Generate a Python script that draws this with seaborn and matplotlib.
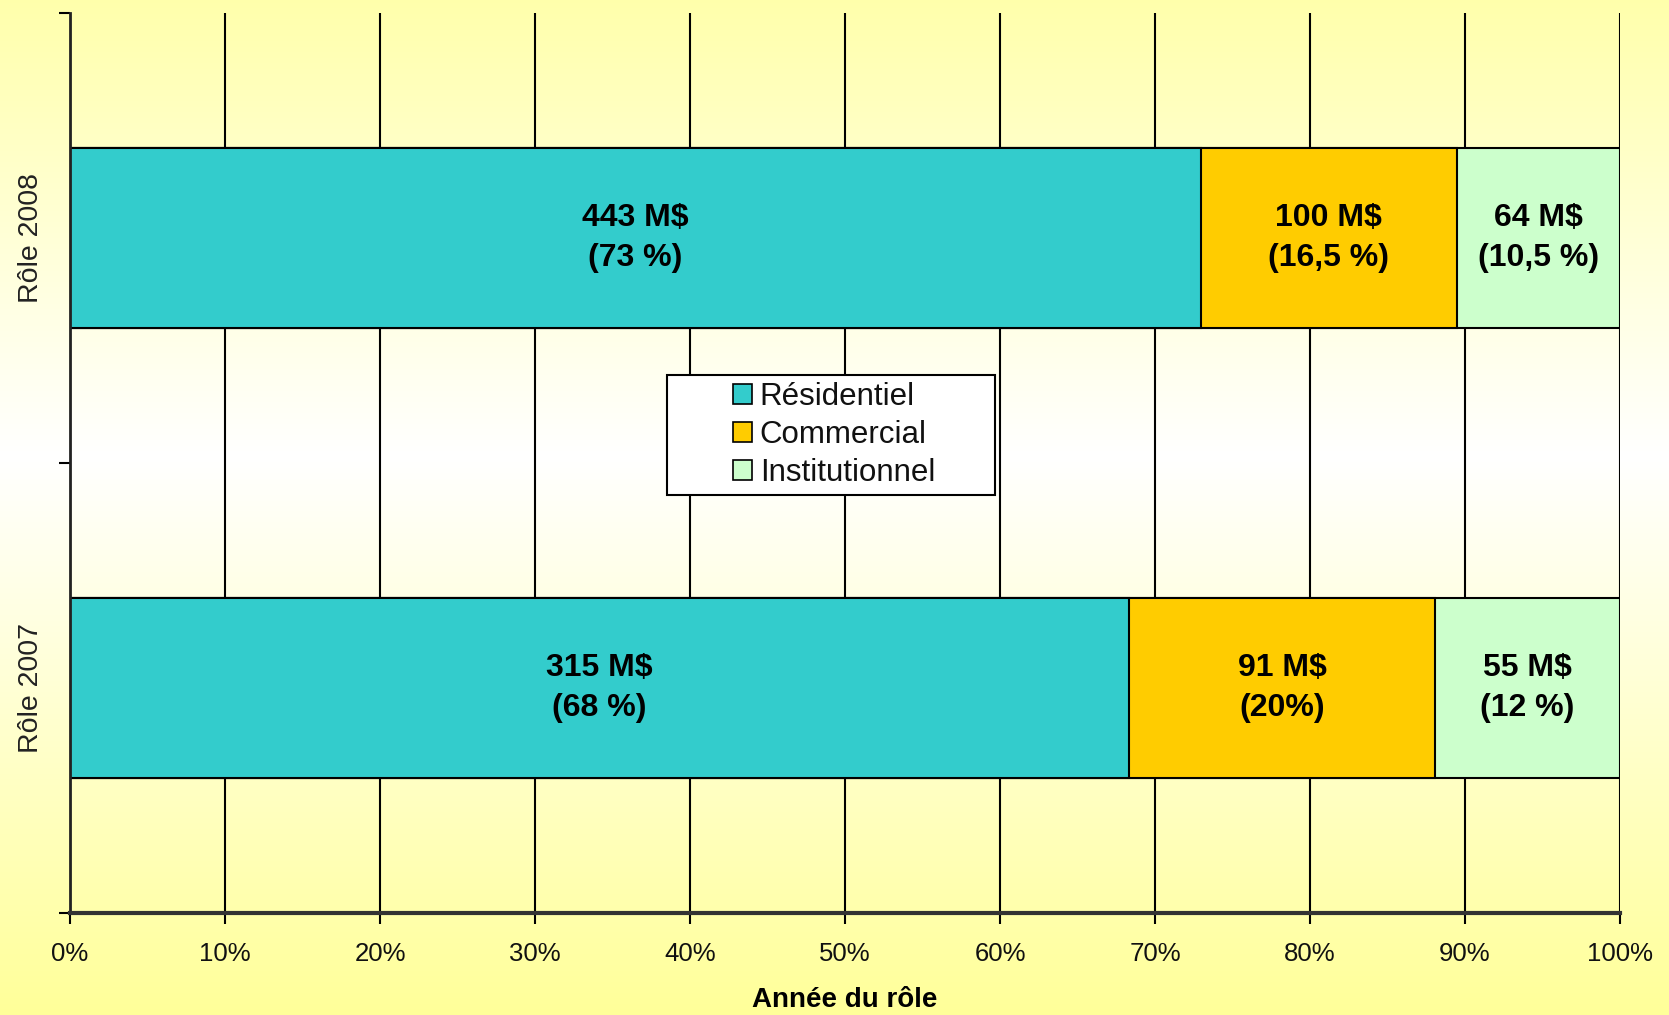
import numpy as np
import pandas as pd
import matplotlib
matplotlib.use("Agg")
import matplotlib.pyplot as plt
from matplotlib.patches import Patch, Rectangle
import seaborn as sns

sns.set_style("ticks")
plt.rcParams["font.family"] = ["Liberation Sans", "DejaVu Sans"]
plt.rcParams["text.color"] = "black"
plt.rcParams["xtick.color"] = "black"
plt.rcParams["ytick.color"] = "black"

# data (M$)
roles = ["Rôle 2008", "Rôle 2007"]
categories = ["Résidentiel", "Commercial", "Institutionnel"]
residentiel = [443, 315]
commercial = [100, 91]
institutionnel = [64, 55]
pct_labels = [["73 %", "16,5 %", "10,5 %"],
              ["68 %", "20%", "12 %"]]
colors = ["#33CCCC", "#FFCC00", "#CCFFCC"]
xticks = list(range(0, 101, 10))

df = pd.DataFrame({"role": roles, "Résidentiel": residentiel,
                   "Commercial": commercial, "Institutionnel": institutionnel})
total = df[categories].sum(axis=1)
for c in categories:
    df[c + "_pct"] = df[c] / total * 100
df["end_res"] = df["Résidentiel_pct"]
df["end_com"] = df["end_res"] + df["Commercial_pct"]
df["end_inst"] = df["end_com"] + df["Institutionnel_pct"]

fig = plt.figure(figsize=(16.69, 10.15), dpi=100)

# background gradient: yellow at top and bottom, white in the middle
H = 1015
t = np.linspace(0, 1, H)
w = np.clip(np.abs(t - 0.45) / 0.55, 0, 1)
yellow = np.array([1.0, 1.0, 0.6])
grad = (1 - w)[:, None] * np.ones(3) + w[:, None] * yellow
bg = fig.add_axes([0, 0, 1, 1], zorder=-10)
bg.imshow(grad[:, None, :], aspect="auto", extent=[0, 1, 0, 1])
bg.axis("off")

ax = fig.add_axes([70 / 1669, 102 / 1015, 1550 / 1669, 900 / 1015])
ax.set_facecolor("none")

ends = ["end_inst", "end_com", "end_res"]
for col, colr in zip(ends, colors[::-1]):
    sns.barplot(data=df, x=col, y="role", order=roles, orient="h", color=colr,
                saturation=1, width=0.4, edgecolor="black", linewidth=1.5, ax=ax)

# labels inside segments
starts = [np.zeros(len(df)), df["end_res"].values, df["end_com"].values]
stops = [df["end_res"].values, df["end_com"].values, df["end_inst"].values]
vals = [residentiel, commercial, institutionnel]
for j in range(3):
    for i in range(len(roles)):
        xc = (starts[j][i] + stops[j][i]) / 2
        ax.text(xc, i, f"{vals[j][i]} M$\n({pct_labels[i][j]})", ha="center", va="center",
                fontsize=23, fontweight="bold", linespacing=1.45, color="black", zorder=5)

ax.set_xlim(0, 100)
ax.set_ylim(1.5, -0.5)
ax.set_xticks(xticks)
ax.set_xticklabels([f"{v}%" for v in xticks], family=["Liberation Sans Narrow", "Liberation Sans"],
                   fontsize=18.5, color="#111111")
ax.xaxis.grid(True, color="black", linewidth=1.5)
ax.set_axisbelow(True)
ax.tick_params(axis="x", direction="out", length=8, width=1.5, color="black", pad=13)

ax.set_yticks([-0.5, 0.5, 1.5])
ax.set_yticklabels([])
ax.set_yticks([0, 1], minor=True)
ax.set_yticklabels(roles, minor=True, rotation=90, va="center", fontsize=20.5, color="#222222")
ax.tick_params(axis="y", which="major", direction="out", length=8, width=1.5, color="black")
ax.tick_params(axis="y", which="minor", length=0, pad=19)

ax.set_ylabel("")
ax.set_xlabel("Année du rôle", fontsize=20, fontweight="bold", labelpad=15, color="black",
              family=["Liberation Sans Narrow", "Liberation Sans"])

for s in ["top", "right"]:
    ax.spines[s].set_visible(False)
ax.spines["bottom"].set_linewidth(3)
ax.spines["bottom"].set_color("#333333")
ax.spines["left"].set_linewidth(2)
ax.spines["left"].set_color("#222222")

# legend
ax.add_patch(Rectangle((0.385, 0.464), 0.212, 0.134, transform=ax.transAxes,
                       facecolor="white", edgecolor="black", linewidth=1.5, zorder=6))
handles = [Patch(facecolor=c, edgecolor="black", linewidth=1.2) for c in colors]
leg = ax.legend(handles, categories, loc="center", bbox_to_anchor=(0.493, 0.531),
                frameon=False, fontsize=22.5, handlelength=0.6, handleheight=0.6,
                handletextpad=0.25, labelspacing=0.25, borderpad=0)
for txt in leg.get_texts():
    txt.set_color("#111111")
leg.set_zorder(7)

fig.savefig("out.png", dpi=100)
